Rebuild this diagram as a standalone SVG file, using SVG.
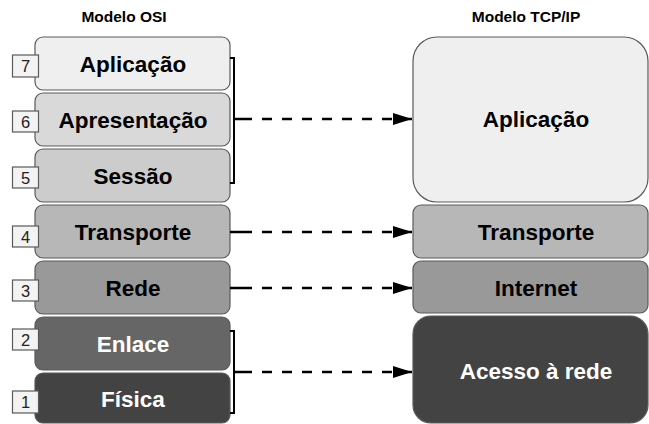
<svg xmlns="http://www.w3.org/2000/svg" width="649" height="424" viewBox="0 0 649 424">
  <style>
    text { font-family: "Liberation Sans", Arial, sans-serif; text-anchor: middle; }
    .title { font-size: 15.5px; font-weight: bold; fill: #000; }
    .label { font-size: 22.5px; font-weight: bold; fill: #000; }
    .label.light { fill: #fff; }
    .layer { stroke: #5a5a5a; stroke-width: 1.2; }
    .num rect { fill: #f3f3f3; stroke: #5a5a5a; stroke-width: 1.2; }
    .num text { font-size: 16.5px; fill: #222; }
    .bracket { fill: none; stroke: #000; stroke-width: 2; }
    .flow { fill: none; stroke: #000; stroke-width: 2.4; stroke-dasharray: 18 10 10 10 10 10 10 10 10 10 10 10 10 10 10 10 10 10; marker-end: url(#head); }
    .flow.edge { stroke-dasharray: 22 10 10 10 10 10 10 10 10 10 10 10 10 10 10 10 10 10; }
  </style>
  <defs>
    <marker id="head" markerUnits="userSpaceOnUse" markerWidth="20" markerHeight="12" refX="19" refY="6" orient="auto">
      <path d="M0 0 L19 6 L0 12 Z" fill="#000"/>
    </marker>
  </defs>

  <rect width="649" height="424" fill="#fff"/>

  <text class="title" x="124" y="22">Modelo OSI</text>
  <text class="title" x="526" y="22">Modelo TCP/IP</text>

  <!-- OSI layers -->
  <g id="osi-7">
    <rect class="layer" x="35" y="37" width="195" height="53" rx="8" fill="#efefef"/>
    <text class="label" x="133" y="71.5">Aplicação</text>
  </g>
  <g id="osi-6">
    <rect class="layer" x="35" y="93" width="195" height="53" rx="8" fill="#d9d9d9"/>
    <text class="label" x="133" y="127.5">Apresentação</text>
  </g>
  <g id="osi-5">
    <rect class="layer" x="35" y="149" width="195" height="53" rx="8" fill="#cccccc"/>
    <text class="label" x="133" y="183.5">Sessão</text>
  </g>
  <g id="osi-4">
    <rect class="layer" x="35" y="205" width="195" height="53" rx="8" fill="#b7b7b7"/>
    <text class="label" x="133" y="239.5">Transporte</text>
  </g>
  <g id="osi-3">
    <rect class="layer" x="35" y="261" width="195" height="53" rx="8" fill="#999999"/>
    <text class="label" x="133" y="295.5">Rede</text>
  </g>
  <g id="osi-2">
    <rect class="layer" x="35" y="317" width="195" height="53" rx="8" fill="#666666"/>
    <text class="label light" x="133" y="351.5">Enlace</text>
  </g>
  <g id="osi-1">
    <rect class="layer" x="35" y="373" width="195" height="50" rx="8" fill="#434343"/>
    <text class="label light" x="133" y="406.5">Física</text>
  </g>

  <!-- layer numbers -->
  <g id="num-7" class="num"><rect x="12.5" y="55" width="26" height="22"/><text x="25.5" y="72">7</text></g>
  <g id="num-6" class="num"><rect x="12.5" y="111" width="26" height="21"/><text x="25.5" y="127.5">6</text></g>
  <g id="num-5" class="num"><rect x="12.5" y="167" width="26" height="21"/><text x="25.5" y="183.5">5</text></g>
  <g id="num-4" class="num"><rect x="12.5" y="226" width="26" height="21"/><text x="25.5" y="242.5">4</text></g>
  <g id="num-3" class="num"><rect x="12.5" y="280" width="26" height="21"/><text x="25.5" y="296.5">3</text></g>
  <g id="num-2" class="num"><rect x="12.5" y="329" width="26" height="21"/><text x="25.5" y="345.5">2</text></g>
  <g id="num-1" class="num"><rect x="12.5" y="391" width="26" height="22"/><text x="25.5" y="408">1</text></g>

  <!-- TCP/IP layers -->
  <g id="tcp-app">
    <rect class="layer" x="413" y="37" width="235" height="165" rx="24" fill="#efefef"/>
    <text class="label" x="536" y="127">Aplicação</text>
  </g>
  <g id="tcp-transport">
    <rect class="layer" x="413" y="205" width="235" height="53" rx="8" fill="#b7b7b7"/>
    <text class="label" x="536" y="239.5">Transporte</text>
  </g>
  <g id="tcp-internet">
    <rect class="layer" x="413" y="261" width="235" height="52" rx="8" fill="#999999"/>
    <text class="label" x="536" y="295.5">Internet</text>
  </g>
  <g id="tcp-access">
    <rect class="layer" x="413" y="316" width="235" height="107" rx="18" fill="#434343"/>
    <text class="label light" x="536" y="379">Acesso à rede</text>
  </g>

  <!-- connectors -->
  <g id="connectors">
    <path class="bracket" d="M230 58 H234 V183 H230"/>
    <path class="bracket" d="M230 331 H234 V413 H230"/>
    <path class="flow" d="M234 119 H412"/>
    <path class="flow edge" d="M230 232 H412"/>
    <path class="flow edge" d="M230 288 H412"/>
    <path class="flow" d="M234 372 H412"/>
  </g>
</svg>
